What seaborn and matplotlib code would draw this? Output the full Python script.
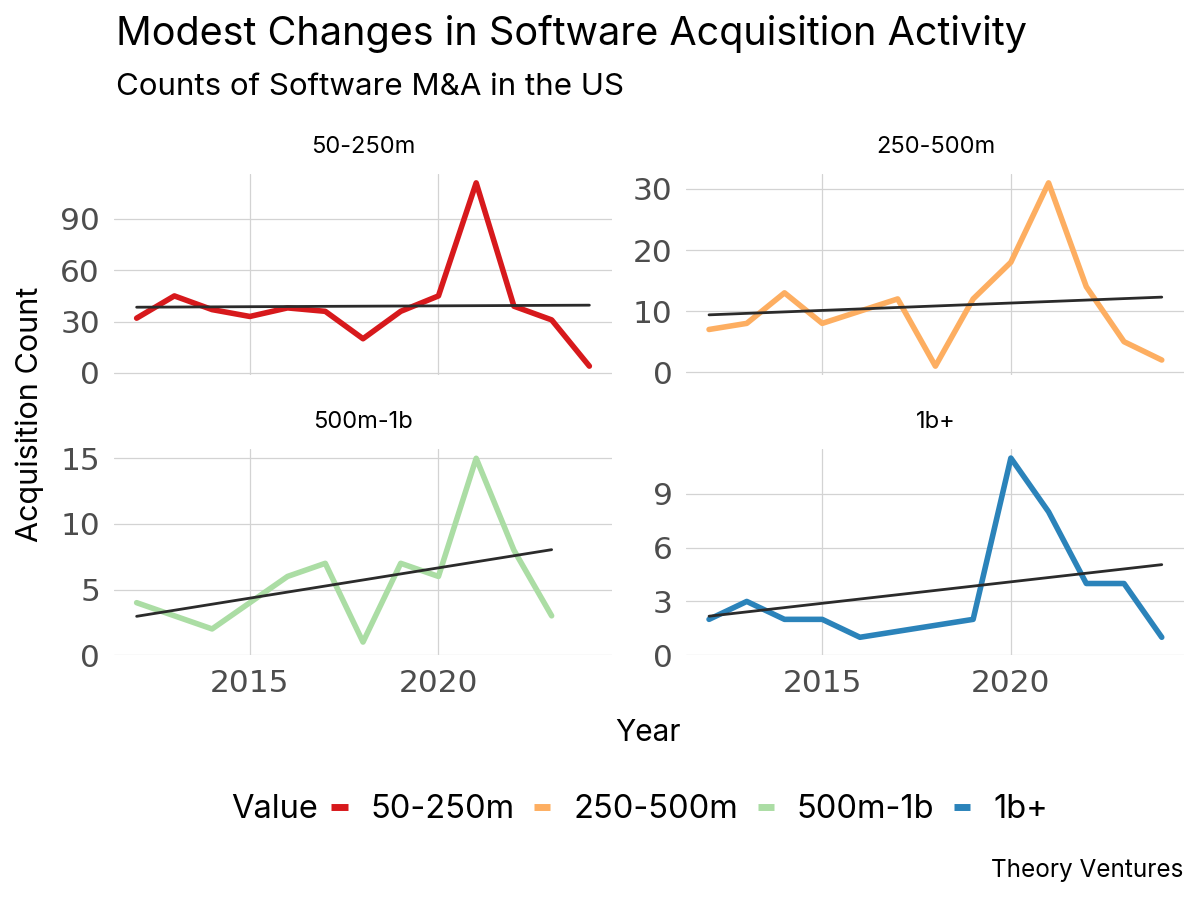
import numpy as np
import pandas as pd
import matplotlib
matplotlib.use("Agg")
import matplotlib.pyplot as plt
from matplotlib.lines import Line2D
import seaborn as sns

# values
years_all = list(range(2012, 2025))
small = [32, 45, 37, 33, 38, 36, 20, 36, 45, 111, 39, 31, 4]          # 50-250m
mid = [7, 8, 13, 8, 10, 12, 1, 12, 18, 31, 14, 5, 2]                   # 250-500m
large_years = list(range(2012, 2024))
large = [4, 3, 2, 4, 6, 7, 1, 7, 6, 15, 8, 3]                          # 500m-1b
mega_years = [2012, 2013, 2014, 2015, 2016, 2019, 2020, 2021, 2022, 2023, 2024]
mega = [2, 3, 2, 2, 1, 2, 11, 8, 4, 4, 1]                              # 1b+

categories = ["50-250m", "250-500m", "500m-1b", "1b+"]
colors = ["#d7191c", "#fdae61", "#abdda4", "#2b83ba"]
y_ticks = [[0, 30, 60, 90], [0, 10, 20, 30], [0, 5, 10, 15], [0, 3, 6, 9]]

frames = []
for cat, yrs, vals in zip(categories,
                          [years_all, years_all, large_years, mega_years],
                          [small, mid, large, mega]):
    frames.append(pd.DataFrame({"Year": yrs, "Count": vals, "Value": cat}))
df = pd.concat(frames, ignore_index=True)

sns.set_style("whitegrid")
plt.rcParams["font.family"] = ["Inter", "DejaVu Sans"]
plt.rcParams["text.color"] = "black"

fig = plt.figure(figsize=(12, 9), dpi=100)

boxes = [
    [0.095, 0.583, 0.415, 0.224],
    [0.572, 0.583, 0.415, 0.224],
    [0.095, 0.272, 0.415, 0.229],
    [0.572, 0.272, 0.415, 0.229],
]

for i, cat in enumerate(categories):
    ax = fig.add_axes(boxes[i])
    sub = df[df["Value"] == cat]
    sns.lineplot(data=sub, x="Year", y="Count", color=colors[i], lw=4,
                 ax=ax, legend=False)
    sns.regplot(data=sub, x="Year", y="Count", scatter=False, ci=None,
                color="#2b2b2b", line_kws={"lw": 2}, ax=ax, truncate=True)
    ax.set_xlim(2011.4, 2024.6)
    ax.set_xticks([2015, 2020])
    ax.set_yticks(y_ticks[i])
    ax.set_xlabel("")
    ax.set_ylabel("")
    ax.grid(True, color="#d3d3d3", lw=0.9)
    for s in ax.spines.values():
        s.set_visible(False)
    ax.tick_params(axis="both", length=0, labelsize=22.5, labelcolor="#4d4d4d",
                   pad=10)
    for lab in ax.get_xticklabels() + ax.get_yticklabels():
        lab.set_family("DejaVu Sans")
    if i < 2:
        ax.set_xticklabels([])
    ax.set_title(cat, fontsize=17, pad=15)

fig.text(0.097, 0.962, "Modest Changes in Software Acquisition Activity",
         fontsize=28.5, ha="left", va="center")
fig.text(0.097, 0.903, "Counts of Software M&A in the US",
         fontsize=22.5, ha="left", va="center")
fig.text(0.025, 0.54, "Acquisition Count", rotation=90, fontsize=22,
         ha="center", va="center")
fig.text(0.54, 0.186, "Year", fontsize=21.5, ha="center", va="center")
fig.text(0.986, 0.033, "Theory Ventures", fontsize=17.5, ha="right",
         va="center")

handles = [Line2D([0], [0], color=c, lw=5, solid_capstyle="butt")
           for c in colors]
fig.text(0.193, 0.10, "Value", fontsize=23.5, ha="left", va="center")
fig.legend(handles, categories, loc="center left", bbox_to_anchor=(0.276, 0.10),
           ncol=4, frameon=False, fontsize=23.5, handlelength=0.5,
           handletextpad=0.7, columnspacing=0.6, borderaxespad=0,
           borderpad=0)

fig.savefig("out.png", dpi=100)
